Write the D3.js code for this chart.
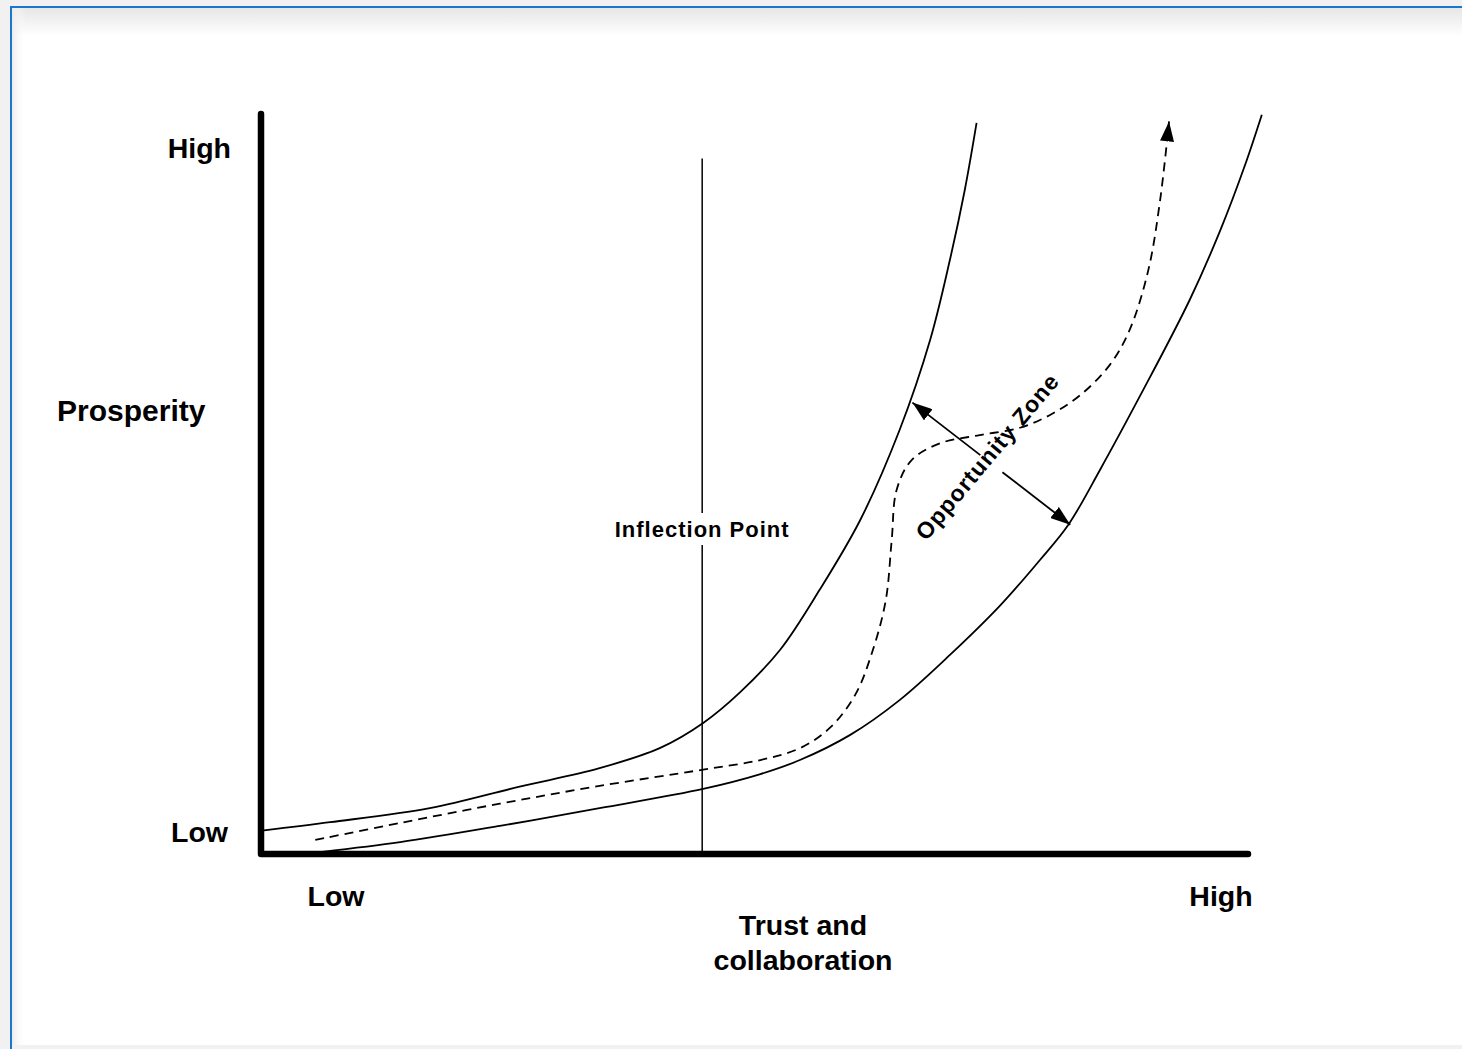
<!DOCTYPE html>
<html>
<head>
<meta charset="utf-8">
<script src="https://cdn.jsdelivr.net/npm/d3@7"></script>
<style>
  html, body { margin: 0; padding: 0; background: #f1f1f1; }
  svg { display: block; }
  text { font-family: "Liberation Sans", Arial, Helvetica, sans-serif; font-weight: bold; fill: #000; }
</style>
</head>
<body>
<svg width="1462" height="1049"></svg>
<script>
// curve data, in 0..100 units on both axes
var upperX = [0.3, 7.0, 17.1, 26.2, 34.3, 40.4, 44.8, 48.5, 52.6, 56.6, 60.7, 64.7, 67.8, 69.8, 71.3, 72.5];
var upperY = [3.2, 4.3, 6.2, 9.1, 11.6, 14.3, 17.7, 21.8, 27.6, 35.7, 45.1, 57.3, 69.5, 80.3, 89.7, 98.8];

var lowerX = [6.2, 14.1, 24.2, 34.3, 44.8, 50.6, 54.6, 59.7, 64.7, 69.8, 74.9, 78.9, 81.8, 85.0, 89.1, 94.1, 97.2, 99.7, 101.4];
var lowerY = [0.3, 1.6, 3.8, 6.2, 8.8, 10.8, 12.7, 16.1, 20.8, 26.9, 33.6, 39.7, 44.5, 51.9, 62.0, 74.9, 84.3, 93.1, 99.9];

var pathX = [5.5, 14.1, 24.2, 34.3, 44.8, 50.6, 54.6, 57.6, 60.2, 62.0, 63.3, 63.9, 64.4, 65.9, 68.8, 72.8, 76.9, 79.9, 83.0, 86.0, 88.0, 89.9, 91.1, 92.0];
var pathY = [1.9, 4.2, 6.8, 9.2, 11.4, 12.7, 14.3, 17.0, 21.5, 27.6, 34.3, 42.4, 49.2, 53.2, 55.5, 56.6, 57.6, 59.3, 62.0, 66.1, 70.8, 78.9, 88.4, 99.0];

var inflectionX = 44.7;
var inflectionTop = 94.0;

var zoneArrow = [[66.0, 61.0], [82.0, 44.5]];
var zoneGap = [0.43, 0.57];

var xTickLabels = ["Low", "High"];
var yTickLabels = ["Low", "High"];
var xTitle = ["Trust and", "collaboration"];
var yTitle = "Prosperity";
var inflectionLabel = "Inflection Point";
var zoneLabel = "Opportunity Zone";

var svg = d3.select("svg"),
    width = +svg.attr("width"),
    height = +svg.attr("height");

var x = d3.scaleLinear().domain([0, 100]).range([261, 1248]);
var y = d3.scaleLinear().domain([0, 100]).range([854, 114]);

var defs = svg.append("defs");

// page frame with soft shadow at the top
var grad = defs.append("linearGradient").attr("id", "topShade")
    .attr("x1", 0).attr("y1", 0).attr("x2", 0).attr("y2", 1);
grad.append("stop").attr("offset", "0%").attr("stop-color", "#e6e6e6");
grad.append("stop").attr("offset", "100%").attr("stop-color", "#ffffff");

var gradL = defs.append("linearGradient").attr("id", "leftShade")
    .attr("x1", 0).attr("y1", 0).attr("x2", 1).attr("y2", 0);
gradL.append("stop").attr("offset", "0%").attr("stop-color", "#ececec");
gradL.append("stop").attr("offset", "100%").attr("stop-color", "#ffffff").attr("stop-opacity", 0);

svg.append("rect").attr("x", 11).attr("y", 7).attr("width", width).attr("height", 1038)
    .attr("fill", "#fff");
svg.append("rect").attr("x", 12).attr("y", 8).attr("width", width).attr("height", 28)
    .attr("fill", "url(#topShade)");
svg.append("rect").attr("x", 12).attr("y", 8).attr("width", 14).attr("height", 1037)
    .attr("fill", "url(#leftShade)");
svg.append("path")
    .attr("d", "M11," + height + " L11,7 L" + width + ",7")
    .attr("fill", "none").attr("stroke", "#1b76cc").attr("stroke-width", 2);

// arrowheads
defs.append("marker")
    .attr("id", "arrowhead")
    .attr("viewBox", "0 -7 20 14")
    .attr("refX", 20).attr("refY", 0)
    .attr("markerUnits", "userSpaceOnUse")
    .attr("markerWidth", 20).attr("markerHeight", 14)
    .attr("orient", "auto")
    .append("path")
    .attr("d", "M0,-7 L20,0 L0,7 Z")
    .attr("fill", "#000");

var line = d3.line()
    .x(function(d) { return x(d[0]); })
    .y(function(d) { return y(d[1]); })
    .curve(d3.curveCatmullRom.alpha(0.5));

function pairs(xs, ys) { return xs.map(function(v, i) { return [v, ys[i]]; }); }

// inflection line
svg.append("line")
    .attr("x1", x(inflectionX)).attr("x2", x(inflectionX))
    .attr("y1", y(0)).attr("y2", y(inflectionTop))
    .attr("stroke", "#000").attr("stroke-width", 1.5);

svg.append("path").datum(pairs(upperX, upperY))
    .attr("d", line).attr("fill", "none")
    .attr("stroke", "#000").attr("stroke-width", 1.8);

svg.append("path").datum(pairs(lowerX, lowerY))
    .attr("d", line).attr("fill", "none")
    .attr("stroke", "#000").attr("stroke-width", 1.8);

svg.append("path").datum(pairs(pathX, pathY))
    .attr("d", line).attr("fill", "none")
    .attr("stroke", "#000").attr("stroke-width", 1.8)
    .attr("stroke-dasharray", "9,6")
    .attr("marker-end", "url(#arrowhead)");

// opportunity zone double arrow, broken where the label crosses
var a0 = zoneArrow[0], a1 = zoneArrow[1];
function along(t) { return [a0[0] + (a1[0] - a0[0]) * t, a0[1] + (a1[1] - a0[1]) * t]; }
var g1 = along(zoneGap[0]), g2 = along(zoneGap[1]);
svg.append("line")
    .attr("x1", x(g1[0])).attr("y1", y(g1[1]))
    .attr("x2", x(a0[0])).attr("y2", y(a0[1]))
    .attr("stroke", "#000").attr("stroke-width", 1.8)
    .attr("marker-end", "url(#arrowhead)");
svg.append("line")
    .attr("x1", x(g2[0])).attr("y1", y(g2[1]))
    .attr("x2", x(a1[0])).attr("y2", y(a1[1]))
    .attr("stroke", "#000").attr("stroke-width", 1.8)
    .attr("marker-end", "url(#arrowhead)");

var zc = along(0.5);
svg.append("text")
    .attr("transform", "translate(" + (x(zc[0]) + 2) + "," + (y(zc[1]) - 2) + ") rotate(-50)")
    .attr("text-anchor", "middle")
    .style("font-size", "23px")
    .style("letter-spacing", "1px")
    .text(zoneLabel);

// inflection label with white knockout behind it
var ix = x(inflectionX);
svg.append("rect").attr("x", ix - 92).attr("y", 513).attr("width", 184).attr("height", 32)
    .attr("fill", "#fff");
svg.append("text")
    .attr("x", ix).attr("y", 537)
    .attr("text-anchor", "middle")
    .style("font-size", "22px")
    .style("letter-spacing", "1px")
    .text(inflectionLabel);

// axes
svg.append("path")
    .attr("d", "M" + x(0) + "," + y(100) + " L" + x(0) + "," + y(0) + " L" + x(100) + "," + y(0))
    .attr("fill", "none").attr("stroke", "#000").attr("stroke-width", 6.5)
    .attr("stroke-linecap", "round").attr("stroke-linejoin", "round");

// axis labels
svg.append("text").attr("x", 231).attr("y", 158).attr("text-anchor", "end")
    .style("font-size", "28.5px").text(yTickLabels[1]);
svg.append("text").attr("x", 228).attr("y", 842).attr("text-anchor", "end")
    .style("font-size", "28.5px").text(yTickLabels[0]);
svg.append("text").attr("x", 57).attr("y", 421)
    .style("font-size", "30px").text(yTitle);

svg.append("text").attr("x", 336).attr("y", 906).attr("text-anchor", "middle")
    .style("font-size", "28.5px").text(xTickLabels[0]);
svg.append("text").attr("x", 1221).attr("y", 906).attr("text-anchor", "middle")
    .style("font-size", "28.5px").text(xTickLabels[1]);

svg.selectAll(".xtitle").data(xTitle).enter().append("text")
    .attr("class", "xtitle")
    .attr("x", 803)
    .attr("y", function(d, i) { return 935 + i * 35; })
    .attr("text-anchor", "middle")
    .style("font-size", "28.5px")
    .text(function(d) { return d; });
</script>
</body>
</html>
